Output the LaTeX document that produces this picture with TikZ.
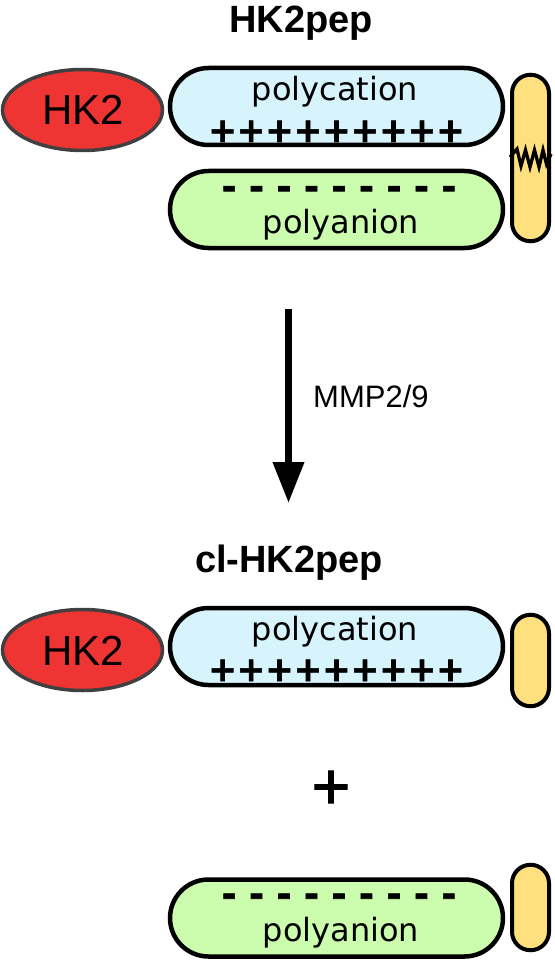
\documentclass[tikz,border=0pt]{standalone}
\usepackage{fontspec}
\usetikzlibrary{shapes.geometric,arrows.meta}
\newfontfamily\arialf{Liberation Sans}
\newfontfamily\arialplus[FakeBold=1.5]{Liberation Sans}
\newfontfamily\dejaf{DejaVu Sans}
\newfontfamily\dejaheavy[FakeBold=1.8]{DejaVu Sans Bold}
\definecolor{hkred}{HTML}{EF3434}
\definecolor{hkedge}{HTML}{404040}
\definecolor{cationfill}{HTML}{D7F3FC}
\definecolor{anionfill}{HTML}{CCFCAE}
\definecolor{linkfill}{HTML}{FFE07E}
\tikzset{
  hkell/.style={ellipse, draw=hkedge, fill=hkred, line width=3.5pt, minimum width=160pt, minimum height=81pt, inner sep=0pt},
  cationbox/.style={rectangle, draw=black, fill=cationfill, line width=4.5pt, minimum width=333pt, minimum height=77pt, rounded corners=38.5pt, inner sep=0pt},
  anionbox/.style={rectangle, draw=black, fill=anionfill, line width=4.5pt, minimum width=333pt, minimum height=77pt, rounded corners=38.5pt, inner sep=0pt},
  linkpill/.style={rectangle, draw=black, fill=linkfill, line width=4pt, minimum width=37pt, rounded corners=18.5pt, inner sep=0pt},
  hklabel/.style={font=\arialf\fontsize{42}{48}\selectfont, anchor=base, inner sep=0pt},
  titlelabel/.style={font=\arialf\bfseries\fontsize{38}{44}\selectfont, anchor=base, inner sep=0pt},
  boxlabel/.style={font=\dejaf\fontsize{32}{38}\selectfont, anchor=base, inner sep=0pt},
  pluslabel/.style={font=\dejaheavy\fontsize{34}{40}\selectfont, anchor=base, inner sep=0pt},
  minuslabel/.style={font=\dejaheavy\fontsize{36}{40}\selectfont, anchor=base, inner sep=0pt},
  cutline/.style={draw=black, line width=3.3pt, line join=miter},
}
\begin{document}
\begin{tikzpicture}[x=1pt,y=-1pt]
\useasboundingbox (0,0) rectangle (554,960);
% ---- top: HK2pep ----
\node[titlelabel] (t1) at (301,33) {HK2pep};
\node[hkell] (hk1) at (82.5,110) {};
\node[hklabel] (hk1t) at (83.5,125) {HK2};
\node[cationbox] (pc1) at (336.5,106.5) {};
\node[boxlabel] (pc1t) at (335,101) {polycation};
\node[pluslabel] (pc1p) at (336.5,142) {+++++++++};
\node[anionbox] (pa1) at (336.5,209.5) {};
\node[minuslabel] (pa1m) at (339,199) {- - - - - - - - -};
\node[boxlabel] (pa1t) at (341,233) {polyanion};
\node[linkpill, minimum height=166.5pt] (lk1) at (530.5,158) {};
\draw[cutline] (lk1.west |- 0,157) -- (517,149) -- (521,166) -- (525.5,150) -- (530,167) -- (534.5,150) -- (539,167) -- (543,150) -- (546.5,164) -- (lk1.east |- 0,154);
% ---- arrow ----
\coordinate (arrtop) at (288.5,309);
\coordinate (arrtip) at (288.5,503);
\draw[line width=7pt, -{Triangle[length=41pt,width=30pt]}] (arrtop) -- (arrtip);
\node[font=\arialf\fontsize{31}{36}\selectfont, anchor=base west, inner sep=0pt] (mmp) at (313,407) {MMP2/9};
% ---- bottom: cl-HK2pep ----
\node[titlelabel] (t2) at (289,572) {cl-HK2pep};
\node[hkell] (hk2) at (82.5,650) {};
\node[hklabel] (hk2t) at (83.5,665) {HK2};
\node[cationbox] (pc2) at (336.5,646.5) {};
\node[boxlabel] (pc2t) at (335,640) {polycation};
\node[pluslabel] (pc2p) at (336.5,681) {+++++++++};
\node[linkpill, minimum height=91.5pt] (lk2) at (530.5,660.5) {};
\node[font=\arialplus\fontsize{66}{72}\selectfont, anchor=base, inner sep=0pt] (plus) at (331,809) {+};
\node[anionbox] (pa2) at (336.5,918) {};
\node[minuslabel] (pa2m) at (339,906.5) {- - - - - - - - -};
\node[boxlabel] (pa2t) at (341,941) {polyanion};
\node[linkpill, minimum height=85.5pt] (lk3) at (530.5,907.5) {};
\end{tikzpicture}
\end{document}
